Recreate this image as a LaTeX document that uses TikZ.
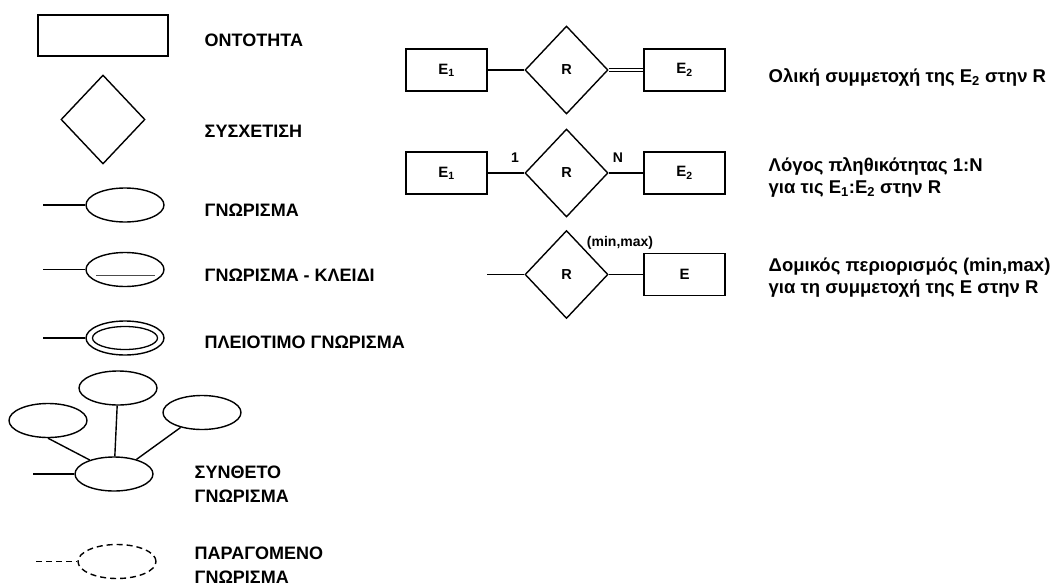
\documentclass[tikz,border=0pt]{standalone}
\usepackage{fontspec}
\setmainfont{Liberation Sans}
\usetikzlibrary{shapes.geometric}
\begin{document}
\begin{tikzpicture}[x=1pt,y=-1pt,line width=1.4pt,
  entity/.style={draw,rectangle,inner sep=0pt,minimum width=81pt,minimum height=42pt,font=\bfseries\fontsize{15}{17}\selectfont},
  relation/.style={draw,diamond,inner sep=0pt,minimum width=83pt,minimum height=88pt,font=\bfseries\fontsize{14.5}{16}\selectfont},
  attr/.style={draw,ellipse,inner sep=0pt,minimum width=78pt,minimum height=34pt},
  legend/.style={anchor=base west,inner sep=0pt,font=\bfseries\fontsize{18}{20}\selectfont},
  desc/.style={anchor=base west,inner sep=0pt,font=\bfseries\fontsize{18.5}{21}\selectfont},
  card/.style={inner sep=0pt,font=\bfseries\fontsize{14}{16}\selectfont}]
\useasboundingbox (0,0) rectangle (1059,586);

% ---- legend of symbols ----
\node[draw,rectangle,inner sep=0pt,minimum width=130pt,minimum height=41pt] (ent) at (103,35.5) {};
\node[legend] (tent) at (204,47) {ΟΝΤΟΤΗΤΑ};

\node[draw,diamond,inner sep=0pt,minimum width=84pt,minimum height=89pt] (rel) at (103,119.5) {};
\node[legend] (trel) at (204,137) {ΣΥΣΧΕΤΙΣΗ};

\node[attr] (at1) at (125,205) {};
\coordinate (l1) at (43,205);
\draw (l1) -- (at1);
\node[legend] (tat1) at (204,216) {ΓΝΩΡΙΣΜΑ};

\node[attr] (key) at (125,269.5) {};
\coordinate (l2) at (43,269.5);
\draw (l2) -- (key);
\draw[line width=0.9pt,black!70] (96,275.5) -- (155,275.5);
\node[legend] (tkey) at (204,281) {ΓΝΩΡΙΣΜΑ - ΚΛΕΙΔΙ};

\node[attr] (multo) at (125,338) {};
\node[draw,ellipse,inner sep=0pt,minimum width=65pt,minimum height=23pt,line width=1.3pt] (multi) at (125,338) {};
\coordinate (l3) at (43,338);
\draw (l3) -- (multo);
\node[legend] (tmulti) at (204,348) {ΠΛΕΙΟΤΙΜΟ ΓΝΩΡΙΣΜΑ};

\node[attr] (ctop) at (118,388) {};
\node[attr] (cleft) at (48,420.5) {};
\node[attr] (cright) at (202,412.5) {};
\node[attr] (cbot) at (114,474) {};
\coordinate (l4) at (33,474);
\draw (l4) -- (cbot);
\draw (ctop) -- (cbot);
\draw (cleft.south) -- (cbot.150);
\draw (cright.-145) -- (cbot.33);
\node[legend] (tcomp1) at (194,478) {ΣΥΝΘΕΤΟ};
\node[legend] (tcomp2) at (194,502) {ΓΝΩΡΙΣΜΑ};

\node[attr,dash pattern=on 6pt off 4pt] (deriv) at (117,561.5) {};
\coordinate (l5) at (36,561.5);
\draw[dash pattern=on 6pt off 4pt] (l5) -- (deriv);
\node[legend] (tder1) at (194,559) {ΠΑΡΑΓΟΜΕΝΟ};
\node[legend] (tder2) at (194,583) {ΓΝΩΡΙΣΜΑ};

% ---- total participation ----
\node[entity] (ea1) at (446.5,70) {E\textsubscript{1}};
\node[relation] (ra) at (566.5,70) {R};
\node[entity] (ea2) at (684.5,70) {E\textsubscript{2}};
\draw (ea1) -- (ra);
\draw[double,double distance=1.6pt,line width=0.8pt] (ra.east) -- (ea2.west);
\node[desc] (da) at (768,82) {Ολική συμμετοχή της E\textsubscript{2} στην R};

% ---- cardinality ratio ----
\node[entity] (eb1) at (446.5,173) {E\textsubscript{1}};
\node[relation] (rb) at (566.5,173) {R};
\node[entity] (eb2) at (684.5,173) {E\textsubscript{2}};
\draw (eb1) -- (rb);
\draw (rb) -- (eb2);
\node[card] (c1) at (515,158) {1};
\node[card] (cn) at (618,158) {N};
\node[desc] (db1) at (768,171.5) {Λόγος πληθικότητας 1:N};
\node[desc] (db2) at (768,193.5) {για τις E\textsubscript{1}:E\textsubscript{2} στην R};

% ---- structural constraint ----
\coordinate (lc) at (487,274.5);
\node[relation] (rc) at (566.5,274.5) {R};
\node[entity] (ec) at (684.5,274.5) {E};
\draw (lc) -- (rc);
\draw (rc) -- (ec);
\node[card] (mm) at (620,243) {(min,max)};
\node[desc] (dc1) at (768,271.5) {Δομικός περιορισμός (min,max)};
\node[desc] (dc2) at (768,293.5) {για τη συμμετοχή της E στην R};
\end{tikzpicture}
\end{document}
